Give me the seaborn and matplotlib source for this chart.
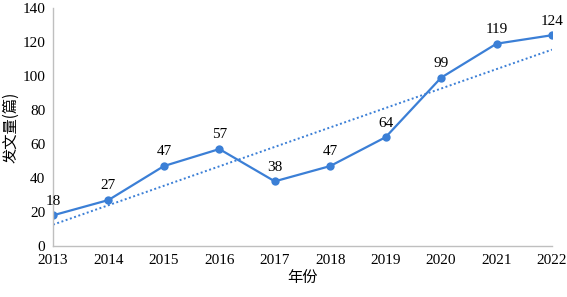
import matplotlib
matplotlib.use("Agg")
import matplotlib.pyplot as plt
import seaborn as sns
import numpy as np
import pandas as pd

years = [2013, 2014, 2015, 2016, 2017, 2018, 2019, 2020, 2021, 2022]
counts = [18, 27, 47, 57, 38, 47, 64, 99, 119, 124]
yticks = [0, 20, 40, 60, 80, 100, 120, 140]

sns.set_style("white")
plt.rcParams['font.family'] = ['Liberation Serif', 'Noto Sans CJK SC']
plt.rcParams['text.color'] = 'black'
plt.rcParams['axes.labelcolor'] = 'black'
plt.rcParams['xtick.color'] = 'black'
plt.rcParams['ytick.color'] = 'black'

df = pd.DataFrame({"year": years, "count": counts})
color = "#3b7fd6"
fs = 11

fig = plt.figure(figsize=(5.67, 2.97), dpi=100)
ax = fig.add_axes([0.0935, 0.172, 0.880, 0.801])

sns.regplot(data=df, x="year", y="count", ax=ax, ci=None, scatter=False,
            line_kws=dict(color=color, linestyle=(0, (1, 1.3)), linewidth=1.4))
sns.lineplot(data=df, x="year", y="count", ax=ax, color=color, marker="o",
             markersize=6, markeredgewidth=0, linewidth=1.6)

for x, y in zip(years, counts):
    ax.annotate(str(y), (x, y), xytext=(0, 5.5), textcoords="offset points",
                ha="center", va="bottom", fontsize=fs, color="black")

ax.set_xlim(2013, 2022)
ax.set_ylim(0, 140)
ax.set_yticks(yticks)
ax.set_xticks(years)
ax.set_xticklabels([str(y) for y in years], fontsize=fs)
ax.set_yticklabels([str(v) for v in yticks], fontsize=fs)
ax.tick_params(axis='y', length=0, pad=5.5)
ax.tick_params(axis='x', length=0, pad=5.5)
ax.set_xlabel("年份", fontsize=11, family=['Noto Sans CJK SC'], labelpad=2)
ax.set_ylabel("发文量(篇)", fontsize=11, family=['Noto Sans CJK SC'], labelpad=2)
for s in ["top", "right"]:
    ax.spines[s].set_visible(False)
for s in ["left", "bottom"]:
    ax.spines[s].set_color("#bfbfbf")
    ax.spines[s].set_linewidth(1)
for lab in ax.get_xticklabels():
    lab.set_clip_on(False)

fig.savefig("out.png", dpi=100)
